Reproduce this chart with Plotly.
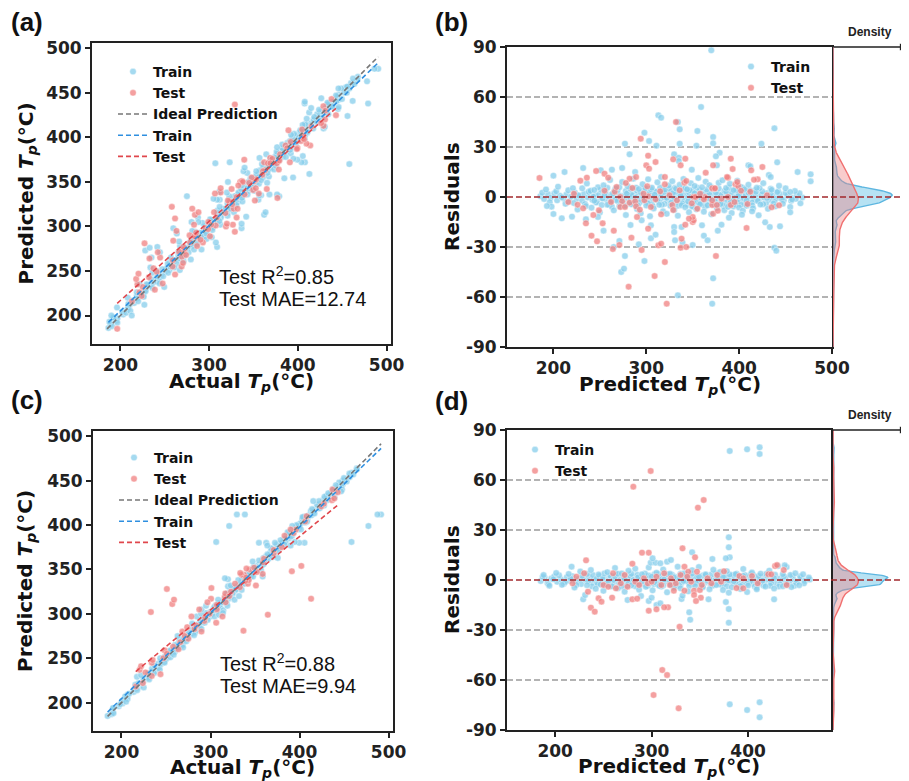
import numpy as np
import plotly.graph_objects as go

# ---------------- DATA ----------------
# Model 1 (panels a, b): (predicted, residual = actual - predicted)
b_train_core = [
    (186, 0.5), (190, -1.2), (194, 1.8), (197, -0.4), (201, 2.2), (204, -2.0), (207, 0.8), (211, -0.9), (214, 1.5), (217, -2.6),
    (219, 0.2), (223, 2.7), (225, -1.1), (228, 0.6), (231, -2.3), (233, 1.9), (237, -0.3), (239, 2.4), (242, -1.7), (245, 0.9),
    (247, -2.8), (249, 1.3), (252, -0.6), (255, 2.1), (257, -1.4), (259, 0.4), (262, -2.5), (263, 1.7), (266, -0.2), (268, 2.9),
    (270, -1.0), (272, 0.7), (275, -2.2), (277, 1.1), (279, -0.5), (281, 2.5), (283, -1.8), (285, 0.3), (287, 1.6), (289, -2.7),
    (291, 0.9), (293, -0.8), (295, 2.3), (297, -1.5), (299, 0.1), (301, 1.9), (303, -2.4), (305, 0.6), (307, -0.7), (309, 2.8),
    (311, -1.3), (313, 0.5), (315, -2.1), (317, 1.4), (319, -0.2), (321, 2.6), (323, -1.9), (325, 0.8), (327, -0.6), (329, 1.2),
    (331, -2.9), (333, 0.3), (335, 2.0), (337, -1.1), (339, 0.7), (341, -2.3), (343, 1.6), (345, -0.4), (347, 2.4), (349, -1.6),
    (351, 0.2), (353, 1.8), (355, -2.6), (357, 0.9), (359, -0.9), (361, 2.2), (363, -1.4), (365, 0.6), (367, -2.0), (369, 1.3),
    (371, -0.3), (373, 2.7), (375, -1.7), (377, 0.4), (379, 1.5), (381, -2.5), (383, 0.8), (385, -0.7), (387, 2.1), (389, -1.2),
    (391, 0.5), (393, -2.2), (395, 1.9), (397, -0.1), (399, 2.5), (401, -1.8), (403, 0.7), (405, -0.8), (407, 1.6), (409, -2.7),
    (411, 0.3), (413, 2.0), (416, -1.3), (418, 0.9), (421, -2.1), (424, 1.4), (427, -0.5), (430, 2.3), (433, -1.6), (436, 0.6),
    (440, -0.9), (444, 1.7), (448, -2.0), (452, 0.8), (457, -0.6), (462, 1.1), (468, -0.3),
]
b_train_core2 = [
    (188, 2.6), (196, -3.1), (203, 3.4), (209, -0.2), (216, 4.0), (222, -3.6), (227, 1.0), (234, -4.2), (238, 3.1), (243, 0.2),
    (246, -3.3), (251, 4.4), (253, -0.9), (256, 3.0), (260, -4.6), (264, 2.0), (267, -1.6), (269, 4.1), (273, -3.9), (276, 0.5),
    (278, 3.6), (282, -4.0), (284, 1.3), (288, -0.4), (290, 3.9), (293, -3.2), (296, 0.9), (298, 4.6), (300, -2.8), (304, 2.9),
    (306, -4.4), (308, 0.0), (310, 3.3), (314, -3.0), (316, 1.8), (318, 4.2), (320, -4.1), (324, 2.4), (326, -2.9), (328, 4.5),
    (330, -0.8), (332, 3.1), (336, -3.5), (338, 1.9), (340, 4.8), (344, -4.5), (346, 2.7), (348, -0.1), (350, 3.7), (354, -3.1),
    (356, 1.2), (358, 4.0), (360, -3.8), (362, 0.4), (364, 3.2), (366, -4.7), (368, 2.2), (370, -1.5), (372, 4.3), (374, -2.6),
    (376, 2.9), (378, -4.3), (380, 1.1), (384, 3.6), (386, -3.4), (388, 0.7), (390, -4.0), (392, 3.0), (394, -1.9), (396, 4.4),
    (398, -3.0), (400, 1.5), (404, 3.8), (406, -4.1), (410, 2.6), (414, -3.3), (417, 4.1), (420, -2.4), (425, 3.3), (429, -3.7),
    (434, 2.1), (438, -2.9), (442, 3.5), (446, -1.4), (450, 2.4), (456, -2.3), (461, -1.1), (465, 2.2),
]
b_train_core3 = [
    (231, 5.2), (235, -5.4), (240, 3.7), (244, -2.2), (248, 5.8), (252, -4.8), (255, 1.0), (258, 5.5), (261, -3.6), (263, -5.9),
    (266, 3.9), (269, -2.4), (271, 5.9), (274, -0.7), (277, -5.2), (279, 2.1), (283, 4.9), (286, -3.7), (289, 5.6), (291, -5.0),
    (294, 2.8), (297, -0.3), (299, 5.3), (302, -3.9), (305, 4.6), (307, -5.6), (309, 1.4), (312, -2.0), (315, 5.7), (317, -4.6),
    (319, 3.0), (322, -0.5), (325, 5.0), (327, -3.4), (329, 2.5), (331, 5.5), (334, -5.3), (337, 0.9), (339, -3.8), (342, 5.2),
    (345, -2.7), (347, 4.0), (349, -5.5), (352, 2.2), (355, 5.6), (357, -4.0), (360, 1.7), (363, -5.8), (365, 4.5), (368, -0.9),
    (370, 5.9), (373, -4.4), (375, 2.6), (378, 5.1), (381, -3.5), (383, -5.2), (386, 3.3), (389, 5.5), (391, -2.9), (394, -5.7),
    (397, 3.8), (399, 0.6), (402, -4.7), (405, 5.4), (408, -2.0), (411, 4.2), (414, -5.0), (418, 3.1), (422, 5.3), (426, -4.3),
    (430, -0.6), (434, 4.9), (437, -3.9), (441, 2.9),
]
b_train_mid = [
    (192, 4.5), (198, -5.8), (205, 6.2), (213, -4.1), (221, 5.3), (226, -7.5), (236, 8.1), (241, -6.4), (244, 4.2), (250, -9.3),
    (254, 7.0), (258, -4.6), (261, 10.2), (265, -8.0), (267, 5.1), (271, -5.5), (274, 9.0), (278, -10.8), (280, 6.4), (284, -4.3),
    (286, 11.0), (290, -7.2), (292, 4.8), (294, -9.8), (296, 7.7), (300, -5.1), (302, 10.6), (304, -11.5), (306, 5.6), (308, -6.9),
    (312, 8.8), (314, -4.7), (316, 12.0), (318, -8.6), (320, 4.4), (322, -10.1), (324, 6.9), (326, -5.3), (328, 9.5), (330, -7.8),
    (332, 5.0), (334, -11.2), (336, 7.3), (338, -4.9), (340, 10.8), (342, -6.1), (344, 4.6), (346, -9.1), (348, 8.2), (350, -5.7),
    (352, 6.6), (354, -7.4), (356, 11.4), (358, -4.4), (360, 5.8), (362, -8.8), (364, 9.2), (366, -5.0), (368, 7.1), (370, -10.4),
    (374, 4.9), (376, -6.6), (378, 8.5), (380, -4.2), (382, 10.0), (384, -7.9), (386, 5.4), (388, -5.9), (390, 7.9), (392, -9.6),
    (394, 4.1), (396, -4.8), (398, 9.8), (400, -6.3), (402, 6.0), (404, -8.2), (406, 4.7), (408, -5.2), (410, 7.4), (415, -6.8),
    (419, 5.5), (423, -4.5), (426, 8.3), (431, -7.1), (435, 4.3), (439, -5.6), (443, 6.7), (447, -4.0), (450, 5.2), (455, -6.0),
    (460, 3.6), (466, -3.8),
]
b_train_spread = [
    (200, 12.8), (212, 15), (232, 17.4), (251, 16), (263, 16.4), (274, 17.4), (277, 32), (298, 38.6), (303, 33.6), (313, 49),
    (316, 47.6), (311, 30.8), (282, 25.6), (288, 15), (193, -5.4), (200, -10.2), (209, -12.8), (220, -11.8), (235, -13.4), (254, -20.2),
    (248, -12), (265, -30), (271, -26.4), (277, -35.4), (273, -45), (276, -43), (283, -16.8), (292, -28.4), (298, -38.4), (305, -24.8),
    (310, -22.6), (305, -17), (295, -14), (359, 54), (334, 45), (336, 40.6), (355, 39.6), (372, 36), (372, 32.2), (438, 41.2),
    (424, 32), (336, 32), (354, 30.8), (330, 25.6), (335, 23.6), (335, 21.6), (379, 26.6), (375, 24.4), (376, 19), (349, 16.4),
    (410, 19), (412, 18.4), (441, 20.8), (463, 15), (477, 13.6), (477, 9.4), (432, 13.2), (434, 12), (455, 3), (457, -1.5),
    (428, -15.2), (433, -18), (444, -17.6), (455, -9.2), (421, -11), (414, -8.6), (403, -10.6), (389, -12.4), (381, -16.6), (377, -20.2),
    (360, -17), (362, -23.2), (366, -26), (438, -30.4), (440, -32.2), (372, -48.8), (334, -59), (371, -64), (330, -18), (330, -21),
    (338, -18), (339, -27.5), (350, -28.8), (331, -26), (370, 88),
]
b_test = [
    (185, 11.4), (246, 15.6), (236, 11.6), (229, 9.8), (255, 14), (294, 35), (302, 24.8), (300, 19), (303, 17), (310, 21),
    (289, 12), (282, 11), (232, -6.8), (226, -4.6), (235, -15.8), (243, -10.8), (241, -23.2), (247, -26.6), (253, -15.8), (265, -20.2),
    (264, -31.2), (271, -28.8), (281, -53.8), (284, -24.4), (295, -31.8), (309, -47.4), (313, -29), (316, -28), (320, -39), (302, -19),
    (290, -12), (332, 45), (329, 22.6), (342, 23), (372, 19), (337, 19), (391, 23), (393, 16.8), (425, 18), (413, 16),
    (364, 14.6), (420, 10.6), (388, 11.6), (435, -6.2), (408, -18.6), (375, -35.4), (342, -16.6), (338, -25), (337, -30.4), (343, -30),
    (350, -15), (351, -14), (350, -12), (346, -13), (372, -10), (377, -8.2), (371, -4.8), (376, -4.8), (371, -2), (391, -4.8),
    (373, 5), (322, -64), (437, -108), (255, 3.8), (266, 3.2), (272, 0), (274, -2.6), (272, -6), (277, -6), (282, -3.4),
    (288, -2.6), (298, -2), (305, -6), (289, -5.6), (293, -7.6), (310, -1.4), (315, 3.4), (320, 7.6), (320, 12), (301, 6.4),
    (285, 5.4), (278, 8.4), (259, 11.6), (302, 0.4), (316, -10.4), (341, 8.6), (343, 9.6), (336, 4), (371, 5.2), (374, 5.2),
    (396, 7.6), (399, 6.6), (402, 3.8), (351, 0), (353, 0), (363, 0), (388, 0), (355, -7), (409, -4.2), (328, -4.8),
    (329, -7.8), (349, -3.8), (362, -1.4), (412, 3.2), (416, 10.3), (398, 9), (387, 12), (216, -3), (222, 2), (249, -8),
    (262, -3), (268, 6), (297, 2), (325, 1), (333, -2), (358, 2), (381, -1), (395, -3), (430, 1), (443, -5),
]

# Model 2 (panels c, d): (predicted, residual = actual - predicted)
d_train_core = [
    (185, -0.6), (189, 1.4), (192, -1.8), (196, 0.9), (199, 2.1), (202, -1.1), (206, 0.3), (209, -2.2), (212, 1.7), (215, -0.5),
    (218, 2.3), (221, -1.6), (224, 0.6), (227, -2.4), (229, 1.2), (232, -0.2), (235, 1.9), (238, -1.3), (240, 0.5), (243, -2.0),
    (246, 2.4), (248, -0.8), (251, 1.0), (253, -1.9), (256, 0.2), (258, 2.0), (261, -1.2), (263, 0.7), (266, -2.3), (268, 1.5),
    (270, -0.4), (273, 2.2), (275, -1.5), (277, 0.8), (280, -0.9), (282, 1.8), (284, -2.1), (286, 0.4), (289, 1.1), (291, -1.7),
    (293, 0.1), (295, 2.3), (298, -1.0), (300, 0.6), (302, -2.4), (304, 1.6), (307, -0.3), (309, 2.0), (311, -1.4), (313, 0.9),
    (315, -0.7), (317, 1.3), (320, -2.2), (322, 0.4), (324, 1.9), (326, -1.1), (328, 0.2), (331, -1.8), (333, 2.4), (335, -0.5),
    (337, 1.0), (339, -2.0), (341, 0.7), (344, 1.7), (346, -1.3), (348, 0.3), (350, -0.9), (352, 2.1), (355, -1.6), (357, 0.5),
    (359, 1.4), (361, -2.3), (363, 0.8), (366, -0.2), (368, 1.8), (370, -1.2), (372, 0.6), (375, -2.1), (377, 1.2), (379, -0.6),
    (382, 2.2), (384, -1.5), (386, 0.9), (389, -0.4), (391, 1.6), (393, -1.9), (396, 0.2), (398, 2.0), (401, -1.0), (403, 0.7),
    (406, -2.2), (408, 1.3), (411, -0.7), (414, 1.9), (417, -1.4), (420, 0.4), (423, -0.8), (426, 1.5), (429, -2.0), (432, 0.8),
    (435, -0.4), (439, 1.7), (443, -1.2), (447, 0.5), (451, -0.9), (455, 1.1), (459, -0.5), (464, 0.3),
]
d_train_core2 = [
    (187, 1.9), (193, -2.6), (198, 0.4), (204, 2.8), (210, -1.4), (216, 0.9), (222, -2.9), (228, 2.5), (234, -0.7), (239, 3.0),
    (244, -2.5), (249, 1.2), (252, -3.2), (257, 2.6), (260, -0.1), (264, 3.3), (267, -2.7), (271, 1.0), (274, -3.4), (278, 2.4),
    (281, 0.0), (285, 3.1), (288, -2.8), (292, 1.5), (294, -3.0), (297, 2.7), (299, -0.6), (303, 3.4), (306, -2.6), (310, 0.8),
    (312, -3.3), (314, 2.9), (318, -0.2), (321, 3.2), (325, -2.9), (327, 1.3), (329, -3.1), (332, 2.6), (336, -0.8), (340, 3.0),
    (343, -2.4), (347, 1.8), (351, -3.5), (354, 2.8), (358, -0.5), (362, 3.3), (365, -2.7), (369, 1.1), (373, -3.2), (376, 2.3),
    (380, -0.3), (385, 3.0), (388, -2.6), (392, 1.4), (394, -3.0), (397, 2.9), (402, -0.9), (405, 3.2), (410, -2.8), (412, 1.0),
    (416, -3.3), (419, 2.7), (424, -1.8), (428, 3.1), (433, -2.5), (437, 2.0), (441, -3.0), (446, 2.6), (450, -1.7), (454, 2.2),
    (458, -2.0), (463, 1.5),
]
d_train_core3 = [
    (233, 3.6), (238, -3.8), (243, 0.9), (247, -2.7), (251, 3.9), (255, -1.0), (258, -3.6), (262, 2.2), (265, 3.8), (269, -3.9),
    (272, 0.5), (276, -2.0), (279, 3.7), (283, -3.7), (286, 1.6), (290, -0.9), (293, 3.9), (296, -3.5), (300, 2.0), (303, -1.3),
    (307, 3.6), (310, -3.9), (313, 0.3), (317, 3.4), (320, -3.0), (323, 1.7), (326, -3.8), (330, 3.7), (333, -0.6), (336, 2.8),
    (339, -3.6), (342, 3.8), (346, -1.9), (349, 2.1), (353, -3.9), (356, 3.5), (360, 0.6), (363, -3.5), (367, 3.9), (370, -2.5),
    (374, 1.9), (378, -3.8), (381, 3.3), (385, -0.8), (388, 3.8), (392, -3.6), (395, 2.5), (399, -2.2), (403, 3.6), (407, -3.9),
    (411, 2.4), (415, -0.4), (419, 3.7), (423, -3.4), (427, 1.1), (432, -3.9), (436, 3.5), (440, -2.1), (444, 3.0), (448, -3.5),
]
d_train_mid = [
    (188, 3.0), (194, -3.4), (201, 4.2), (207, -2.9), (214, 3.6), (220, -4.5), (226, 5.1), (233, -3.1), (237, 6.0), (242, -5.2),
    (245, 3.3), (250, -6.5), (254, 4.7), (259, -3.8), (262, 7.2), (265, -4.9), (269, 3.9), (272, -7.0), (276, 5.5), (279, -3.2),
    (283, 6.8), (287, -5.8), (290, 3.4), (294, -4.1), (297, 7.5), (301, -6.2), (305, 4.4), (308, -3.5), (312, 6.3), (316, -7.4),
    (319, 3.7), (323, -4.6), (327, 8.0), (330, -5.0), (334, 4.0), (338, -6.8), (342, 5.9), (345, -3.6), (349, 7.8), (353, -4.3),
    (356, 3.2), (360, -5.5), (364, 6.1), (367, -3.0), (371, 4.8), (374, -6.0), (378, 5.3), (383, -4.4), (387, 3.5), (392, -5.4),
    (395, 6.6), (400, -3.3), (404, 4.5), (409, -4.7), (413, 3.8), (418, -3.9), (422, 5.6), (427, -5.1), (431, 8.4), (436, -3.7),
    (440, 7.8), (445, -4.2), (449, 4.0), (453, -3.1), (457, 3.4),
]
d_train_spread = [
    (381, 77.4), (399, 78.4), (412, 79.6), (412, 75.6), (381, -74.6), (399, -78), (412, -73.4), (412, -82.4),
    (380, 25.6), (380, 19.6), (381, 13.6), (377, 13), (342, 16.6), (363, 12.6), (438, 8.8), (380, -7.6), (380, -17.4), (380, -25.6),
    (339, -19.4), (340, -23.8), (331, -11.4), (332, -9.4), (359, -11.6), (377, -13.2), (427, -11.6), (399, -7.2), (409, -5.6),
    (229, -11.6), (231, -9), (275, -12), (289, -9.6), (297, -12.6), (300, -10.6), (305, -15), (309, -14), (217, 8),
    (299, 10.4), (304, 10.4), (309, 10), (301, 13), (316, 11), (320, 12),
]
d_test = [
    (299, 65.4), (281, 56), (348, 43.4), (354, 48), (290, 16.4), (297, 16.4), (232, 11.8), (280, 9.8), (332, 19), (345, 13.6),
    (375, 5.2), (428, 8.4), (437, 6), (421, 3.4), (404, 2.4), (391, 2.4), (388, -4.8), (334, 8), (338, 5), (319, -3),
    (323, -6.4), (334, -6.4), (344, -6.4), (344, -9), (350, -6), (351, -10.6), (346, -12.6), (317, -16.4), (329, -28), (237, -16.6),
    (241, -19), (245, -11), (248, -13), (259, -10.6), (234, -7), (280, -11.6), (285, -11.2), (297, -18.4), (305, -17.6), (313, -16.4),
    (302, -69), (328, -77), (311, -54), (316, -57), (317, 96), (218, -2), (222, 2), (230, 4), (250, -3), (255, -4),
    (260, 4), (263, -5), (268, -2), (272, 3), (275, -4), (283, -1), (287, -3), (292, 1), (296, -2), (300, -1),
    (305, 2), (310, -3), (313, 4), (320, 1), (325, -2), (330, 3), (337, 2), (341, -1), (347, 5), (352, -3),
    (358, 1), (362, -2), (368, 3), (372, -1), (395, 1), (410, -2), (430, 9), (440, -3), (424, 3.4), (395, -5),
]

metrics_a = (0.85, 12.74)
metrics_c = (0.88, 9.94)

parity_ticks_x = [200, 300, 400, 500]
parity_ticks_y = [200, 250, 300, 350, 400, 450, 500]
resid_ticks = [-90, -60, -30, 0, 30, 60, 90]
pred_ticks_b = [200, 300, 400, 500]
pred_ticks_d = [200, 300, 400]
grid_levels = [-60, -30, 30, 60]

# ---------------- helpers ----------------
W, H = 909, 781
OFF = 8  # the page body margin: figure starts at (8, 8) in the window
def fx(px): return (px - OFF) / W
def fy(py): return 1 - (py - OFF) / H

def unzip(lst):
    return np.array([p[0] for p in lst], float), np.array([p[1] for p in lst], float)

def kde(vals, grid):
    v = np.asarray(vals, float)
    n = len(v)
    q75, q25 = np.percentile(v, [75, 25])
    s = min(v.std(ddof=1), (q75 - q25) / 1.349)
    bw = 0.9 * s * n ** -0.2
    z = (grid[:, None] - v[None, :]) / bw
    return np.exp(-0.5 * z ** 2).sum(1) / (n * bw * np.sqrt(2 * np.pi))

TRAIN_C = "rgba(135,206,235,0.75)"
TEST_C = "rgba(240,128,128,0.75)"
TICKFONT = dict(family="DejaVu Sans", size=17, color="#222", weight="bold")
TITLEFONT = dict(family="DejaVu Sans", size=20, color="#111", weight="bold")
LEGFONT = dict(family="DejaVu Sans", size=14, color="#111", weight="bold")

fig = go.Figure()
annotations = []
shapes = []

def parity_panel(train, test, xa, ya, leg, metrics, dom_x, dom_y):
    p_tr, r_tr = unzip(train)
    p_te, r_te = unzip(test)
    a_tr, a_te = p_tr + r_tr, p_te + r_te
    mk = dict(size=6.5, line=dict(width=0.4, color="white"))
    fig.add_trace(go.Scatter(x=a_tr, y=p_tr, mode="markers", name="Train", xaxis=xa, yaxis=ya, legend=leg,
                             marker=dict(color=TRAIN_C, **mk)))
    fig.add_trace(go.Scatter(x=a_te, y=p_te, mode="markers", name="Test", xaxis=xa, yaxis=ya, legend=leg,
                             marker=dict(color=TEST_C, **mk)))
    allv = np.concatenate([a_tr, p_tr, a_te, p_te])
    lo, hi = allv.min(), allv.max()
    fig.add_trace(go.Scatter(x=[lo, hi], y=[lo, hi], mode="lines", name="Ideal Prediction", xaxis=xa, yaxis=ya,
                             legend=leg, line=dict(color="#777", dash="5px,3px", width=1.6)))
    for a, p, nm, col in [(a_tr, p_tr, "Train", "#2E8FE0"), (a_te, p_te, "Test", "#E0474C")]:
        k, b = np.polyfit(a, p, 1)
        xs = np.array([a.min(), a.max()])
        fig.add_trace(go.Scatter(x=xs, y=k * xs + b, mode="lines", name=nm, xaxis=xa, yaxis=ya, legend=leg,
                                 line=dict(color=col, dash="5px,3px", width=1.6)))
    r2, mae = metrics
    x0 = dom_x[0] + 125
    annotations.append(dict(xref="paper", yref="paper", x=fx(x0), y=fy(dom_y[1] - 69), xanchor="left", yanchor="middle",
                            text=f"Test R<sup>2</sup>={r2:.2f}", showarrow=False,
                            font=dict(family="Liberation Sans, Arial", size=20, color="#111")))
    annotations.append(dict(xref="paper", yref="paper", x=fx(x0), y=fy(dom_y[1] - 45), xanchor="left", yanchor="middle",
                            text=f"Test MAE={mae:.2f}", showarrow=False,
                            font=dict(family="Liberation Sans, Arial", size=20, color="#111")))


def resid_panel(train, test, xa, ya, xden, leg, dom_x, dom_y):
    p_tr, r_tr = unzip(train)
    p_te, r_te = unzip(test)
    mk = dict(size=6.5, line=dict(width=0.4, color="white"))
    fig.add_trace(go.Scatter(x=p_tr, y=r_tr, mode="markers", name="Train", xaxis=xa, yaxis=ya, legend=leg,
                             marker=dict(color=TRAIN_C, **mk)))
    fig.add_trace(go.Scatter(x=p_te, y=r_te, mode="markers", name="Test", xaxis=xa, yaxis=ya, legend=leg,
                             marker=dict(color=TEST_C, **mk)))
    grid = np.linspace(-90, 90, 721)
    k_tr = kde(r_tr, grid)
    k_te = kde(r_te, grid)
    fig.add_trace(go.Scatter(x=k_tr, y=grid, mode="lines", fill="tozerox", fillcolor="rgba(135,206,235,0.6)",
                             line=dict(color="#5DB6E0", width=1.4), xaxis=xden, yaxis=ya, showlegend=False))
    fig.add_trace(go.Scatter(x=k_te, y=grid, mode="lines", fill="tozerox", fillcolor="rgba(240,128,128,0.4)",
                             line=dict(color="#F07070", width=1.4), xaxis=xden, yaxis=ya, showlegend=False))
    ax_id = xa.replace("x", "")
    for g in grid_levels:
        shapes.append(dict(type="line", xref=f"x{ax_id} domain", yref=f"y{ax_id}", x0=0, x1=1, y0=g, y1=g,
                           line=dict(color="#9a9a9a", width=1.3, dash="6px,3px"), layer="below"))
    shapes.append(dict(type="line", xref="paper", yref=f"y{ax_id}", x0=fx(dom_x[0]), x1=fx(909), y0=0, y1=0,
                       line=dict(color="#A3282C", width=1.6, dash="6px,3px"), layer="above"))
    annotations.append(dict(xref="paper", yref="paper", x=fx(907), y=fy(dom_y[0]), ax=-(907 - dom_x[1]), ay=0,
                            axref="pixel", ayref="pixel", showarrow=True, arrowhead=2, arrowsize=1.1, arrowwidth=1.3,
                            arrowcolor="#222", text=""))
    annotations.append(dict(xref="paper", yref="paper", x=fx(870), y=fy(dom_y[0] - 15), text="Density",
                            xanchor="center", yanchor="middle", showarrow=False,
                            font=dict(family="Liberation Sans, Arial", size=12, color="#222", weight="bold")))
    return max(k_te.max(), 1e-9)


A_X, A_Y = (92, 391), (43, 344)
B_X, B_Y = (507, 832), (47, 347)
C_X, C_Y = (93, 393), (431, 731)
D_X, D_Y = (507, 831), (430, 730)
DEN_X = (833, 909)

b_train = b_train_core + b_train_core2 + b_train_core3 + b_train_mid + b_train_spread
d_train = d_train_core + d_train_core2 + d_train_core3 + d_train_mid + d_train_spread

parity_panel(b_train, b_test, "x", "y", "legend", metrics_a, A_X, A_Y)
peak_b = resid_panel(b_train, b_test, "x2", "y2", "x3", "legend2", B_X, B_Y)
parity_panel(d_train, d_test, "x4", "y4", "legend3", metrics_c, C_X, C_Y)
peak_d = resid_panel(d_train, d_test, "x5", "y5", "x6", "legend4", D_X, D_Y)

def axis(dom, rng, ticks, anchor, labels=None, **kw):
    d = dict(domain=dom, range=rng, tickvals=ticks, ticktext=labels if labels else [str(t) for t in ticks],
             anchor=anchor, showline=True, linecolor="#222", linewidth=1.8, mirror=True, ticks="outside",
             ticklen=5, tickwidth=1.5, tickcolor="#222", showgrid=False, zeroline=False, tickfont=TICKFONT,
             automargin=False)
    d.update(kw)
    return d

resid_labels = [str(t) for t in resid_ticks]
den_axis = lambda peak, anchor: dict(domain=[fx(DEN_X[0]), fx(DEN_X[1])], range=[0, 3.0 * peak], visible=False,
                                     anchor=anchor, automargin=False)

layout = dict(
    width=W, height=H, margin=dict(l=0, r=0, t=0, b=0, autoexpand=False), plot_bgcolor="white", paper_bgcolor="white",
    xaxis=axis([fx(A_X[0]), fx(A_X[1])], [168, 505], parity_ticks_x, "y"),
    yaxis=axis([fy(A_Y[1]), fy(A_Y[0])], [168, 506], parity_ticks_y, "x"),
    xaxis2=axis([fx(B_X[0]), fx(B_X[1])], [150, 500], pred_ticks_b, "y2"),
    yaxis2=axis([fy(B_Y[1]), fy(B_Y[0])], [-90, 90], resid_ticks, "x2", resid_labels),
    xaxis3=den_axis(peak_b, "y2"),
    xaxis4=axis([fx(C_X[0]), fx(C_X[1])], [168, 505], parity_ticks_x, "y4"),
    yaxis4=axis([fy(C_Y[1]), fy(C_Y[0])], [168, 506], parity_ticks_y, "x4"),
    xaxis5=axis([fx(D_X[0]), fx(D_X[1])], [150, 486], pred_ticks_d, "y5"),
    yaxis5=axis([fy(D_Y[1]), fy(D_Y[0])], [-90, 90], resid_ticks, "x5", resid_labels),
    xaxis6=den_axis(peak_d, "y5"),
)
leg = lambda x, y: dict(x=fx(x), y=fy(y), xanchor="left", yanchor="top", bgcolor="rgba(0,0,0,0)",
                        font=LEGFONT, itemwidth=30, tracegroupgap=0)
layout["legend"] = leg(113, 56)
layout["legend2"] = leg(731, 51)
layout["legend3"] = leg(114, 442)
layout["legend4"] = leg(515, 434)

TP = "<i>T</i><sub><i>p</i></sub>(°C)"
def title(x, y, text, angle=0):
    annotations.append(dict(xref="paper", yref="paper", x=fx(x), y=fy(y), text=text, showarrow=False,
                            textangle=angle, font=TITLEFONT, xanchor="center", yanchor="middle"))
title((A_X[0] + A_X[1]) / 2, A_Y[1] + 38, "Actual " + TP)
title(26, (A_Y[0] + A_Y[1]) / 2, "Predicted " + TP, -90)
title((B_X[0] + B_X[1]) / 2, B_Y[1] + 38, "Predicted " + TP)
title(452, (B_Y[0] + B_Y[1]) / 2, "Residuals", -90)
title((C_X[0] + C_X[1]) / 2, C_Y[1] + 37, "Actual " + TP)
title(26, (C_Y[0] + C_Y[1]) / 2, "Predicted " + TP, -90)
title((D_X[0] + D_X[1]) / 2, D_Y[1] + 37, "Predicted " + TP)
title(452, (D_Y[0] + D_Y[1]) / 2, "Residuals", -90)

for lab, x, y in [("(a)", 27, 22), ("(b)", 451, 22), ("(c)", 27, 400), ("(d)", 451, 401)]:
    annotations.append(dict(xref="paper", yref="paper", x=fx(x), y=fy(y), text=lab, showarrow=False,
                            xanchor="center", yanchor="middle",
                            font=dict(family="Liberation Sans, Arial", size=26, color="#111", weight="bold")))

layout["annotations"] = annotations
layout["shapes"] = shapes
fig.update_layout(**layout)
fig.write_html("out.html")
